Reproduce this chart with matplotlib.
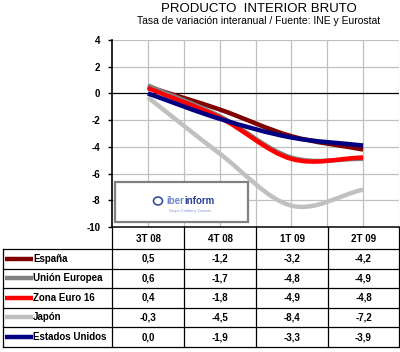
import matplotlib
matplotlib.use("Agg")
import matplotlib.pyplot as plt
import numpy as np
from matplotlib.path import Path
from matplotlib.patches import PathPatch, Rectangle, Circle
from matplotlib.lines import Line2D
from matplotlib.text import Annotation

plt.rcParams['font.family'] = ['Liberation Sans', 'DejaVu Sans']

# data
quarters = ["3T 08", "4T 08", "1T 09", "2T 09"]
series_names = ["España", "Unión Europea", "Zona Euro 16", "Japón", "Estados Unidos"]
espana = [0.5, -1.2, -3.2, -4.2]
union_europea = [0.6, -1.7, -4.8, -4.9]
zona_euro = [0.4, -1.8, -4.9, -4.8]
japon = [-0.3, -4.5, -8.4, -7.2]
eeuu = [0.0, -1.9, -3.3, -3.9]
colors = ["#800000", "#808080", "#FF0000", "#C0C0C0", "#000080"]
yticks = [4, 2, 0, -2, -4, -6, -8, -10]

all_series = [espana, union_europea, zona_euro, japon, eeuu]

W, H = 400, 352
fig = plt.figure(figsize=(W / 100, H / 100), dpi=100)

def fx(px):
    return px / W

def fy(py):
    return 1 - py / H

ax = fig.add_axes([fx(112), fy(227), fx(399) - fx(112), fy(40) - fy(227)])
ax.set_xlim(-0.5, 3.5)
ax.set_ylim(-10, 4)

# grid
for xv in np.arange(0, 3.6, 0.5):
    ax.axvline(xv, color="#C0C0C0", lw=0.9, zorder=0)
for yv in yticks:
    if yv not in (0, -10):
        ax.axhline(yv, color="#C0C0C0", lw=0.9, zorder=0)
ax.axhline(0, color="black", lw=0.9, zorder=1)

for s in ["top", "right", "bottom"]:
    ax.spines[s].set_visible(False)
ax.spines["left"].set_linewidth(1.2)
ax.set_xticks([])
ax.set_yticks(yticks)
ax.set_yticklabels([str(v) for v in yticks], fontsize=7, fontweight="bold")
ax.tick_params(axis="y", length=3, width=1, pad=5.5)


def smooth_path(xs, ys):
    # Excel-style smoothed line: Catmull-Rom segments as cubic Bezier
    pts = np.column_stack([xs, ys]).astype(float)
    n = len(pts)
    tang = np.zeros_like(pts)
    for i in range(n):
        if i == 0:
            tang[i] = pts[1] - pts[0]
        elif i == n - 1:
            tang[i] = pts[-1] - pts[-2]
        else:
            tang[i] = (pts[i + 1] - pts[i - 1]) / 2
    verts = [pts[0]]
    codes = [Path.MOVETO]
    for i in range(n - 1):
        verts += [pts[i] + tang[i] / 3, pts[i + 1] - tang[i + 1] / 3, pts[i + 1]]
        codes += [Path.CURVE4] * 3
    return Path(verts, codes)


xs = np.arange(len(quarters))
order = [3, 1, 0, 2, 4]
for k in order:
    p = PathPatch(smooth_path(xs, all_series[k]), fill=False, edgecolor=colors[k],
                  lw=3.2, capstyle="butt", joinstyle="round", zorder=3 + k)
    ax.add_patch(p)

# title
fig.text(fx(259), fy(9), "PRODUCTO  INTERIOR BRUTO", ha="center", va="center", fontsize=9.5)
fig.text(fx(259), fy(21), "Tasa de variación interanual / Fuente: INE y Eurostat",
         ha="center", va="center", fontsize=7.5)

# logo box
fig.add_artist(Rectangle((fx(115), fy(222)), fx(248) - fx(115), fy(182) - fy(222),
                         transform=fig.transFigure, facecolor="white", edgecolor="#808080",
                         lw=1.6, zorder=10))
fig.add_artist(Circle((fx(158), fy(201)), 4.5 / W, transform=fig.transFigure,
                      facecolor="white", edgecolor="#3A4F9A", lw=1.2, zorder=11))
t_iber = fig.text(fx(166), fy(201), "iber", color="#6F86C8", fontsize=7, fontweight="bold",
                  ha="left", va="center", zorder=12)
t_inform = Annotation("inform", xy=(1, 0.5), xycoords=t_iber, xytext=(0.3, 0),
                      textcoords="offset points", color="#2E3F8F", fontsize=7,
                      fontweight="bold", ha="left", va="center", annotation_clip=False)
t_inform.set_zorder(12)
fig.add_artist(t_inform)
fig.text(fx(190), fy(211), "Grupo Crédito y Caución", color="#8090C8", fontsize=2.8,
         ha="center", va="center", zorder=12)

# table
col_edges = [112, 184, 256, 328, 399]
row_edges = [249, 268.5, 288, 307.5, 327, 347]
top = 227
left = 3


def hline(x0, x1, y, lw=0.9):
    fig.add_artist(Line2D([fx(x0), fx(x1)], [fy(y), fy(y)], color="black", lw=lw,
                          transform=fig.transFigure))


def vline(x, y0, y1, lw=0.9):
    fig.add_artist(Line2D([fx(x), fx(x)], [fy(y0), fy(y1)], color="black", lw=lw,
                          transform=fig.transFigure))


hline(112, 399, top, lw=1.1)
hline(left, 399, row_edges[0])
for y in row_edges[1:]:
    hline(left, 399, y)
for x in col_edges:
    vline(x, top, row_edges[-1])
vline(left, row_edges[0], row_edges[-1])

for j, q in enumerate(quarters):
    cx = (col_edges[j] + col_edges[j + 1]) / 2
    fig.text(fx(cx), fy((top + row_edges[0]) / 2 + 0.5), q, ha="center", va="center",
             fontsize=7, fontweight="bold")

for i, name in enumerate(series_names):
    cy = (row_edges[i] + row_edges[i + 1]) / 2
    fig.add_artist(Line2D([fx(5), fx(33)], [fy(cy), fy(cy)], color=colors[i], lw=3.2,
                          solid_capstyle="butt", transform=fig.transFigure))
    fig.text(fx(33), fy(cy), name, ha="left", va="center", fontsize=7, fontweight="bold")
    for j, v in enumerate(all_series[i]):
        cx = (col_edges[j] + col_edges[j + 1]) / 2
        fig.text(fx(cx), fy(cy), f"{v:.1f}".replace(".", ","), ha="center", va="center",
                 fontsize=7, fontweight="bold")

fig.savefig("out.png", dpi=100)
